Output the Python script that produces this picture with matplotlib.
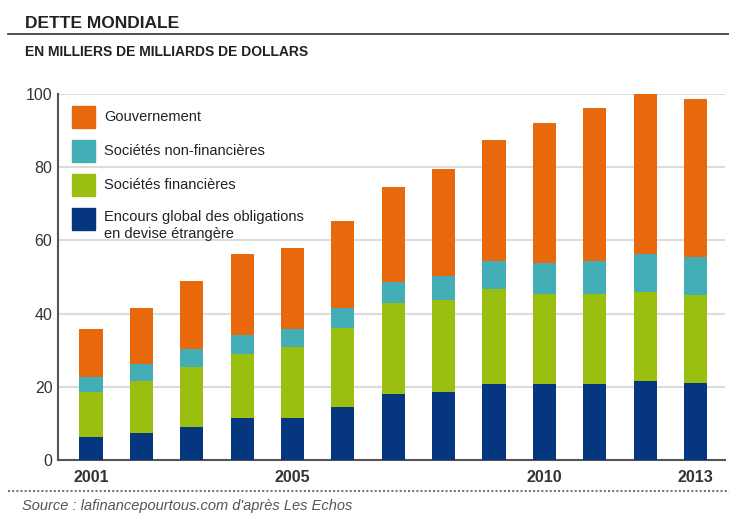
import matplotlib
matplotlib.use("Agg")
import matplotlib.pyplot as plt
from matplotlib.patches import Rectangle
from matplotlib.lines import Line2D
import numpy as np

years = list(range(2001, 2014))
tick_years = [2001, 2005, 2010, 2013]
encours = [6.4, 7.3, 9.1, 11.4, 11.4, 14.4, 17.9, 18.5, 20.7, 20.7, 20.7, 21.5, 21.1]
financieres = [12.2, 14.3, 16.4, 17.5, 19.5, 21.8, 25.0, 25.3, 26.1, 24.7, 24.7, 24.4, 23.9]
non_financieres = [4.1, 4.6, 4.8, 5.2, 4.9, 5.4, 5.8, 6.6, 7.5, 8.3, 8.9, 10.3, 10.5]
gouvernement = [13.2, 15.4, 18.6, 22.2, 22.1, 23.6, 26.0, 29.0, 33.0, 38.3, 41.9, 43.8, 43.0]
yticks = [0, 20, 40, 60, 80, 100]

labels = ["Gouvernement", "Sociétés non-financières", "Sociétés financières",
          "Encours global des obligations\nen devise étrangère"]
c_orange = "#E8690B"
c_teal = "#43AEB5"
c_green = "#9BBF10"
c_blue = "#063680"
colors = [c_orange, c_teal, c_green, c_blue]

FONT = ["Liberation Sans", "DejaVu Sans"]
plt.rcParams["font.family"] = FONT

W, H = 729, 524
fig = plt.figure(figsize=(W / 100, H / 100), dpi=100)
ax = fig.add_axes([58 / W, 1 - 460 / H, 667 / W, 366 / H])

x = np.arange(len(years))
bw = 0.46
b = np.zeros(len(years))
for vals, col in [(encours, c_blue), (financieres, c_green),
                  (non_financieres, c_teal), (gouvernement, c_orange)]:
    ax.bar(x, vals, bw, bottom=b, color=col, zorder=3, linewidth=0)
    b += np.array(vals)

ax.set_xlim(-0.655, 12.586)
ax.set_ylim(0, 100)
ax.set_yticks(yticks)
ax.set_yticklabels([str(v) for v in yticks], fontsize=11.5, color="#333333")
ax.set_xticks([years.index(y) for y in tick_years])
ax.set_xticklabels([str(y) for y in tick_years], fontsize=11.5, color="#333333",
                   fontweight="bold")
ax.tick_params(axis="both", length=0)
ax.tick_params(axis="y", pad=4)
ax.tick_params(axis="x", pad=7)
ax.yaxis.grid(True, color="#dcdcdc", linewidth=1.5, zorder=0)
for s in ["top", "right"]:
    ax.spines[s].set_visible(False)
ax.spines["left"].set_color("#555555")
ax.spines["bottom"].set_color("#555555")
ax.spines["left"].set_linewidth(1.5)
ax.spines["bottom"].set_linewidth(1.5)

# legend
ys = [117, 151, 185, 219]
for lab, col, yy in zip(labels, colors, ys):
    fig.patches.append(Rectangle((72 / W, 1 - (yy + 11) / H), 23 / W, 22 / H,
                                 transform=fig.transFigure, color=col))
    if "\n" in lab:
        fig.text(104 / W, 1 - (yy - 9) / H, lab, fontsize=10.5, color="#222222",
                 va="top", ha="left", linespacing=1.3)
    else:
        fig.text(104 / W, 1 - yy / H, lab, fontsize=10.5, color="#222222",
                 va="center", ha="left")

# titles
fig.text(25 / W, 1 - 24 / H, "DETTE MONDIALE", fontsize=12.5, fontweight="bold",
         color="#222222", va="center", ha="left")
fig.add_artist(Line2D([8 / W, 1], [1 - 34 / H, 1 - 34 / H], color="#444444",
                      linewidth=1.3, transform=fig.transFigure))
fig.text(25 / W, 1 - 52 / H, "EN MILLIERS DE MILLIARDS DE DOLLARS", fontsize=10,
         fontweight="bold", color="#222222", va="center", ha="left")

# source
fig.add_artist(Line2D([8 / W, 1], [1 - 491 / H, 1 - 491 / H], color="#777777",
                      linewidth=1.5, linestyle=(0, (1, 1)), transform=fig.transFigure))
fig.text(22 / W, 1 - 506 / H, "Source : lafinancepourtous.com d'après Les Echos",
         fontsize=10.5, fontstyle="italic", color="#555555", va="center", ha="left")

fig.savefig("out.png", dpi=100)
